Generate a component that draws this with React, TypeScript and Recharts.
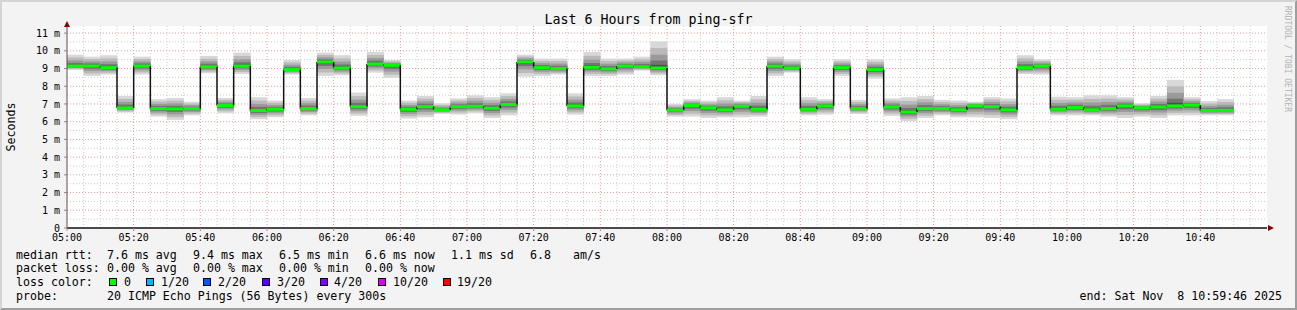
import {
  ComposedChart,
  Bar,
  XAxis,
  YAxis,
  CartesianGrid,
  ReferenceDot,
} from 'recharts';

const W = 1297;
const H = 310;
const MONO = '"DejaVu Sans Mono", monospace';
const Y_MAX = 11.4;
const X_MAX = 360;

// 5-minute slots, start time of each
const slots = [
  '05:00', '05:05', '05:10', '05:15', '05:20', '05:25', '05:30', '05:35', '05:40', '05:45', '05:50', '05:55',
  '06:00', '06:05', '06:10', '06:15', '06:20', '06:25', '06:30', '06:35', '06:40', '06:45', '06:50', '06:55',
  '07:00', '07:05', '07:10', '07:15', '07:20', '07:25', '07:30', '07:35', '07:40', '07:45', '07:50', '07:55',
  '08:00', '08:05', '08:10', '08:15', '08:20', '08:25', '08:30', '08:35', '08:40', '08:45', '08:50', '08:55',
  '09:00', '09:05', '09:10', '09:15', '09:20', '09:25', '09:30', '09:35', '09:40', '09:45', '09:50', '09:55',
  '10:00', '10:05', '10:10', '10:15', '10:20', '10:25', '10:30', '10:35', '10:40', '10:45',
];

// median rtt, ms
const median = [
  9.14, 9.14, 9.05, 6.78, 9.14, 6.74, 6.72, 6.74, 9.1, 6.91, 9.14, 6.63,
  6.7, 8.94, 6.74, 9.37, 9.03, 6.85, 9.26, 9.18, 6.7, 6.85, 6.67, 6.85,
  6.87, 6.76, 6.97, 9.37, 9.05, 9.0, 6.89, 9.07, 8.98, 9.14, 9.1, 9.03,
  6.65, 6.91, 6.78, 6.67, 6.87, 6.7, 9.13, 9.03, 6.7, 6.89, 9.05, 6.74,
  8.94, 6.83, 6.55, 6.74, 6.74, 6.67, 6.89, 6.85, 6.67, 9.05, 9.14, 6.7,
  6.8, 6.67, 6.74, 6.89, 6.78, 6.83, 6.89, 6.93, 6.63, 6.64,
];

// smoke extent (fastest / slowest ping), ms
const smokeLo = [
  8.92, 8.58, 8.66, 6.52, 8.66, 6.29, 6.1, 6.36, 8.73, 6.48, 8.69, 6.14,
  6.25, 8.66, 6.36, 8.58, 8.62, 6.33, 8.77, 8.47, 6.18, 6.25, 6.44, 6.4,
  6.48, 6.21, 6.36, 8.54, 8.58, 8.66, 6.4, 8.58, 8.58, 8.66, 8.88, 8.62,
  6.29, 6.29, 6.21, 6.25, 6.25, 6.29, 8.58, 8.77, 6.36, 6.4, 8.58, 6.44,
  8.43, 6.33, 6.03, 6.21, 6.36, 6.25, 6.25, 6.21, 6.14, 8.69, 8.66, 6.36,
  6.36, 6.36, 6.29, 6.21, 6.29, 6.21, 6.36, 6.36, 6.36, 6.36,
];
const smokeHi = [
  9.78, 9.67, 9.75, 7.45, 9.67, 7.27, 7.34, 7.12, 9.71, 7.34, 9.9, 7.38,
  7.19, 9.48, 7.34, 9.9, 9.75, 7.64, 9.93, 9.48, 7.19, 7.45, 7.04, 7.31,
  7.49, 7.38, 7.6, 9.78, 9.56, 9.56, 7.6, 9.93, 9.56, 9.56, 9.67, 10.53,
  7.0, 7.27, 7.19, 7.38, 7.19, 7.45, 9.67, 9.52, 7.38, 7.27, 9.52, 7.23,
  9.52, 7.31, 7.38, 7.45, 7.23, 7.19, 7.12, 7.38, 7.31, 9.75, 9.52, 7.41,
  7.38, 7.49, 7.49, 7.38, 7.04, 7.45, 8.36, 7.38, 7.16, 7.27,
];

const yTicks = [0, 1, 2, 3, 4, 5, 6, 7, 8, 9, 10, 11];
const xTickLabels = [
  '05:00', '05:20', '05:40', '06:00', '06:20', '06:40', '07:00', '07:20', '07:40',
  '08:00', '08:20', '08:40', '09:00', '09:20', '09:40', '10:00', '10:20', '10:40',
];

const lossLegend = [
  { label: '0', color: '#00ff00', box: 109, text: 124 },
  { label: '1/20', color: '#00b8ff', box: 146, text: 161 },
  { label: '2/20', color: '#0059ff', box: 203, text: 218 },
  { label: '3/20', color: '#5e00ff', box: 262, text: 277 },
  { label: '4/20', color: '#7e00ff', box: 320, text: 334 },
  { label: '10/20', color: '#dd00ff', box: 378, text: 393 },
  { label: '19/20', color: '#ff0000', box: 443, text: 457 },
];

const toMin = (s: string) => {
  const [h, m] = s.split(':').map(Number);
  return (h - 5) * 60 + m;
};

const rows = slots.map((s, i) => ({
  mid: toMin(s) + 2.5,
  lo: smokeLo[i],
  hi: smokeHi[i],
  med: median[i],
  prev: i > 0 ? median[i - 1] : null,
}));

const xTicks = xTickLabels.map(toMin);

// grey levels of the smoke, from the outer pings in towards the median
const SHADES: [number, string][] = [
  [0, '#d8d8d8'],
  [0.25, '#bababa'],
  [0.5, '#9a9a9a'],
  [0.72, '#747474'],
  [0.88, '#4e4e4e'],
];

function Smoke(props: any) {
  const { x, y, width, height, payload } = props;
  const { lo, hi, med, prev } = payload;
  const top = Math.min(y, y + height);
  const k = Math.abs(height) / (hi - lo);
  const yv = (v: number) => top + (hi - v) * k;
  return (
    <g>
      {SHADES.map(([f, c]) => {
        const a = yv(hi - (hi - med) * f);
        const b = yv(lo + (med - lo) * f);
        return <rect key={c} x={x} y={a} width={width} height={Math.max(b - a, 0.5)} fill={c} />;
      })}
      {prev !== null && (
        <line x1={x} x2={x} y1={yv(prev)} y2={yv(med)} stroke="#111" strokeWidth={1.5} />
      )}
      <rect x={x} y={yv(med) - 1.5} width={width} height={3} fill="#00ff00" />
    </g>
  );
}

const minorX: number[] = [];
for (let m = 5; m < X_MAX; m += 5) if (m % 20 !== 0) minorX.push(m);
const majorX: number[] = [];
for (let m = 20; m < X_MAX; m += 20) majorX.push(m);
const minorY: number[] = [];
for (let v = 0.5; v < Y_MAX; v += 1) minorY.push(v);
const majorY = yTicks.filter((v) => v > 0);

// grid positions follow the axis scale when the grid gets it, else the plot box
const onX = (vals: number[]) => ({ xAxis, offset }: any) =>
  xAxis && typeof xAxis.scale === 'function'
    ? vals.map((v) => xAxis.scale(v))
    : vals.map((v) => offset.left + (v / X_MAX) * offset.width);
const onY = (vals: number[]) => ({ yAxis, offset }: any) =>
  yAxis && typeof yAxis.scale === 'function'
    ? vals.map((v) => yAxis.scale(v))
    : vals.map((v) => offset.top + (1 - v / Y_MAX) * offset.height);

const txt = (left: number, top: number, s: string) => (
  <div
    key={`${left}-${top}-${s}`}
    style={{
      position: 'absolute',
      left,
      top,
      fontSize: 11.6,
      lineHeight: '14px',
      whiteSpace: 'pre',
      color: '#000',
    }}
  >
    {s}
  </div>
);

export default function App() {
  return (
    <div
      style={{
        position: 'absolute',
        left: 0,
        top: 0,
        width: W,
        height: H,
        background: '#f3f3f3',
        fontFamily: MONO,
        overflow: 'hidden',
      }}
    >
      <div style={{ position: 'absolute', left: 0, top: 0 }}>
        <ComposedChart
          width={W}
          height={H}
          data={rows}
          margin={{ top: 26, right: 30, bottom: 62, left: 0 }}
          barCategoryGap={0}
          barGap={0}
        >
          <CartesianGrid
            fill="#ffffff"
            stroke="#cccccc"
            strokeDasharray="1 2"
            verticalCoordinatesGenerator={onX(minorX)}
            horizontalCoordinatesGenerator={onY(minorY)}
          />
          <CartesianGrid
            stroke="#f29a9a"
            strokeDasharray="1 2"
            verticalCoordinatesGenerator={onX(majorX)}
            horizontalCoordinatesGenerator={onY(majorY)}
          />
          <XAxis
            type="number"
            dataKey="mid"
            domain={[0, X_MAX]}
            allowDataOverflow
            ticks={xTicks}
            interval={0}
            tickFormatter={(v: number) => xTickLabels[xTicks.indexOf(v)]}
            height={20}
            tickSize={3}
            tickMargin={3}
            tickLine={{ stroke: '#e07070' }}
            axisLine={{ stroke: '#111', strokeWidth: 1.5 }}
            tick={{ fontFamily: MONO, fontSize: 10, fill: '#000' }}
          />
          <YAxis
            type="number"
            domain={[0, Y_MAX]}
            allowDataOverflow
            ticks={yTicks}
            interval={0}
            tickFormatter={(v: number) => (v === 0 ? '0' : `${v} m`)}
            width={67}
            tickSize={3}
            tickMargin={4}
            tickLine={{ stroke: '#888' }}
            axisLine={{ stroke: '#6a4a4a' }}
            tick={{ fontFamily: MONO, fontSize: 10, fill: '#000' }}
          />
          <Bar
            dataKey={(d: any) => [d.lo, d.hi]}
            shape={(p: any) => <Smoke {...p} />}
            isAnimationActive={false}
          />
          <ReferenceDot
            x={0}
            y={Y_MAX}
            r={0}
            ifOverflow="visible"
            shape={(p: any) => (
              <path d={`M${p.cx - 3},${p.cy + 1} L${p.cx + 3},${p.cy + 1} L${p.cx},${p.cy - 5} Z`} fill="#8b0000" />
            )}
          />
          <ReferenceDot
            x={X_MAX}
            y={0}
            r={0}
            ifOverflow="visible"
            shape={(p: any) => (
              <path d={`M${p.cx + 1},${p.cy - 3} L${p.cx + 1},${p.cy + 3} L${p.cx + 7},${p.cy} Z`} fill="#8b0000" />
            )}
          />
        </ComposedChart>
      </div>

      <div
        style={{
          position: 'absolute',
          left: 0,
          top: 12,
          width: W,
          textAlign: 'center',
          fontSize: 13.3,
          lineHeight: '16px',
          whiteSpace: 'pre',
        }}
      >
        Last 6 Hours from ping-sfr
      </div>

      <div
        style={{
          position: 'absolute',
          left: 11 - 40,
          top: 127 - 7,
          width: 80,
          textAlign: 'center',
          fontSize: 11.6,
          lineHeight: '14px',
          transform: 'rotate(-90deg)',
        }}
      >
        Seconds
      </div>

      <div
        style={{
          position: 'absolute',
          left: 1287 - 70,
          top: 59 - 5,
          width: 140,
          textAlign: 'center',
          fontSize: 8,
          lineHeight: '10px',
          color: '#b4b4b4',
          transform: 'rotate(90deg)',
          whiteSpace: 'pre',
        }}
      >
        RRDTOOL / TOBI OETIKER
      </div>

      {txt(16, 248, 'median rtt:')}
      {txt(107, 248, '7.6 ms avg')}
      {txt(193, 248, '9.4 ms max')}
      {txt(279, 248, '6.5 ms min')}
      {txt(365, 248, '6.6 ms now')}
      {txt(451, 248, '1.1 ms sd')}
      {txt(530, 248, '6.8')}
      {txt(573, 248, 'am/s')}

      {txt(16, 261, 'packet loss:')}
      {txt(107, 261, '0.00 % avg')}
      {txt(193, 261, '0.00 % max')}
      {txt(279, 261, '0.00 % min')}
      {txt(365, 261, '0.00 % now')}

      {txt(16, 275, 'loss color:')}
      {lossLegend.map((l) => (
        <div key={l.label}>
          <div
            style={{
              position: 'absolute',
              left: l.box,
              top: 278,
              width: 6,
              height: 6,
              background: l.color,
              border: '1px solid #000',
            }}
          />
          {txt(l.text, 275, l.label)}
        </div>
      ))}

      {txt(16, 289, 'probe:')}
      {txt(107, 289, '20 ICMP Echo Pings (56 Bytes) every 300s')}
      <div
        style={{
          position: 'absolute',
          right: W - 1282,
          top: 289,
          fontSize: 11.6,
          lineHeight: '14px',
          whiteSpace: 'pre',
        }}
      >
        end: Sat Nov  8 10:59:46 2025
      </div>

      <div
        style={{
          position: 'absolute',
          left: 0,
          top: 0,
          width: W,
          height: H,
          boxSizing: 'border-box',
          borderTop: '2px solid #d4d4d4',
          borderLeft: '2px solid #d4d4d4',
          borderRight: '2px solid #9e9e9e',
          borderBottom: '2px solid #9e9e9e',
          pointerEvents: 'none',
        }}
      />
    </div>
  );
}
